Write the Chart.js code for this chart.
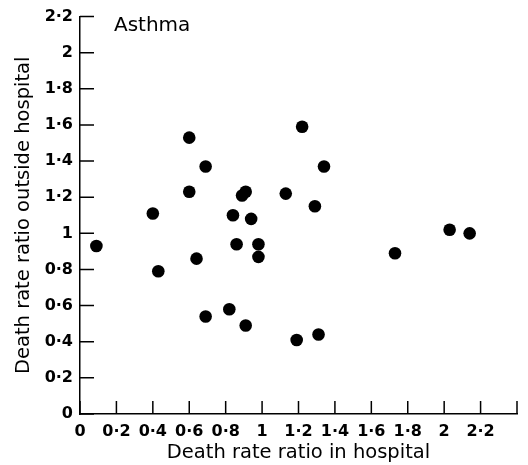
<!DOCTYPE html>
<html>
<head>
<meta charset="utf-8">
<script src="https://cdn.jsdelivr.net/npm/chart.js@4/dist/chart.umd.min.js"></script>
<style>
  html, body { margin: 0; padding: 0; background: #fff; }
  #wrap { width: 528px; height: 465px; }
</style>
</head>
<body>
<div id="wrap"><canvas id="asthmaChart"></canvas></div>
<script>
// death rate ratios
const inHospital = [0.09, 0.40, 0.43, 0.60, 0.60, 0.64, 0.69, 0.69, 0.82, 0.84, 0.86, 0.89, 0.91, 0.91, 0.94, 0.98, 0.98, 1.13, 1.19, 1.22, 1.29, 1.31, 1.34, 1.73, 2.03, 2.14];
const outsideHospital = [0.93, 1.11, 0.79, 1.53, 1.23, 0.86, 1.37, 0.54, 0.58, 1.10, 0.94, 1.21, 1.23, 0.49, 1.08, 0.94, 0.87, 1.22, 0.41, 1.59, 1.15, 0.44, 1.37, 0.89, 1.02, 1.00];

const xTickLabels = ['0', '0·2', '0·4', '0·6', '0·8', '1', '1·2', '1·4', '1·6', '1·8', '2', '2·2', ''];
const yTickLabels = ['0', '0·2', '0·4', '0·6', '0·8', '1', '1·2', '1·4', '1·6', '1·8', '2', '2·2'];

const panelTitle = 'Asthma';
const xTitle = 'Death rate ratio in hospital';
const yTitle = 'Death rate ratio outside hospital';

const points = inHospital.map((x, i) => ({ x: x, y: outsideHospital[i] }));

// tick marks point into the plot, so draw them by hand
const inwardTicks = {
    id: 'inwardTicks',
    afterDraw(chart) {
        const ctx = chart.ctx;
        const xs = chart.scales.x, ys = chart.scales.y;
        const area = chart.chartArea;
        ctx.save();
        ctx.strokeStyle = '#000';
        ctx.lineWidth = 1.5;
        ctx.beginPath();
        xs.ticks.forEach(t => {
            const px = xs.getPixelForValue(t.value);
            ctx.moveTo(px, area.bottom);
            ctx.lineTo(px, area.bottom - 13);
        });
        ys.ticks.forEach(t => {
            const py = ys.getPixelForValue(t.value);
            ctx.moveTo(area.left, py);
            ctx.lineTo(area.left + 14, py);
        });
        ctx.stroke();
        ctx.fillStyle = '#000';
        ctx.font = '20px "DejaVu Sans"';
        ctx.textBaseline = 'alphabetic';
        ctx.fillText(panelTitle, area.left + 34, area.top + 14);
        ctx.restore();
    }
};

const ctx = document.getElementById('asthmaChart').getContext('2d');
new Chart(ctx, {
    type: 'scatter',
    data: {
        datasets: [{
            data: points,
            backgroundColor: '#000',
            borderWidth: 0,
            pointRadius: 6.3,
            pointHoverRadius: 6.3
        }]
    },
    options: {
        responsive: true,
        maintainAspectRatio: false,
        animation: false,
        clip: false,
        layout: { padding: { top: 16, right: 11, left: 0, bottom: 0 } },
        plugins: { legend: { display: false }, tooltip: { enabled: false } },
        scales: {
            x: {
                type: 'linear',
                min: 0, max: 2.4,
                afterFit: s => { s.height = 51; },
                ticks: {
                    stepSize: 0.2,
                    padding: 8,
                    color: '#000',
                    maxRotation: 0,
                    autoSkip: false,
                    font: { family: 'DejaVu Sans', size: 16, weight: 'bold' },
                    callback: (v, i) => xTickLabels[i]
                },
                grid: { display: false, drawTicks: false },
                border: { display: true, color: '#000', width: 1.5 },
                title: {
                    display: true, text: xTitle, color: '#000',
                    font: { family: 'DejaVu Sans', size: 19.5 },
                    padding: { top: 0, bottom: 0 }
                }
            },
            y: {
                type: 'linear',
                min: 0, max: 2.2,
                afterFit: s => { s.width = 80; },
                ticks: {
                    stepSize: 0.2,
                    padding: 7,
                    color: '#000',
                    autoSkip: false,
                    font: { family: 'DejaVu Sans', size: 16, weight: 'bold' },
                    callback: (v, i) => yTickLabels[i]
                },
                grid: { display: false, drawTicks: false },
                border: { display: true, color: '#000', width: 1.5 },
                title: {
                    display: true, text: yTitle, color: '#000',
                    font: { family: 'DejaVu Sans', size: 19.5 },
                    padding: { top: 12, bottom: 0 }
                }
            }
        }
    },
    plugins: [inwardTicks]
});
</script>
</body>
</html>
